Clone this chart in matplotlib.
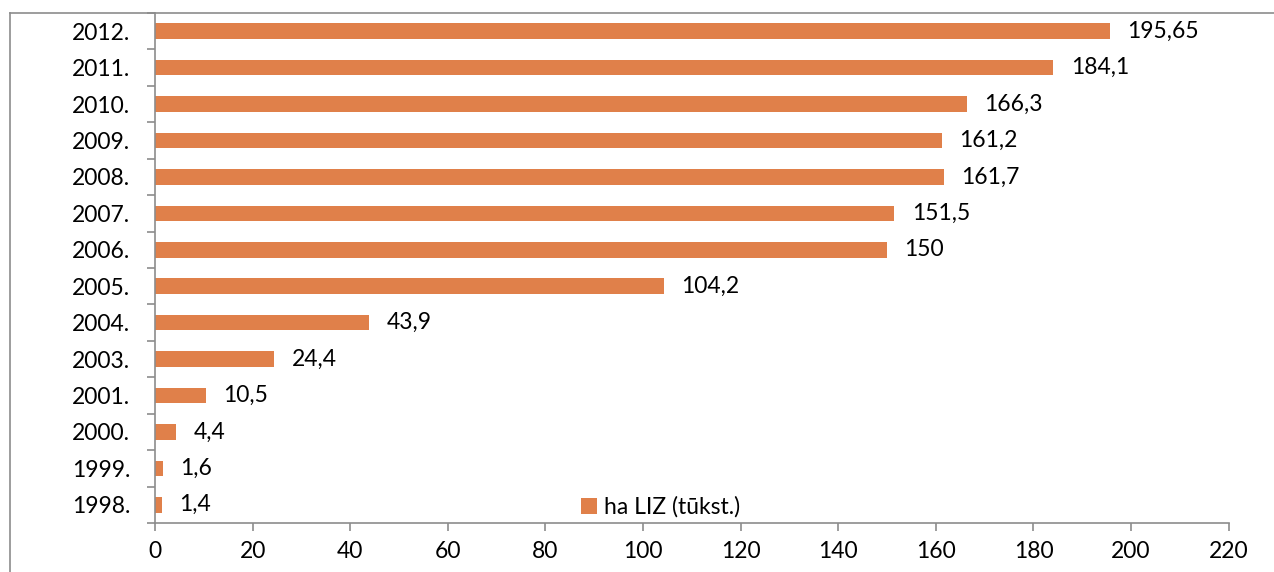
import numpy as np
import matplotlib.pyplot as plt
from matplotlib.lines import Line2D

# data
years = ['1998.', '1999.', '2000.', '2001.', '2003.', '2004.', '2005.',
         '2006.', '2007.', '2008.', '2009.', '2010.', '2011.', '2012.']
values = [1.4, 1.6, 4.4, 10.5, 24.4, 43.9, 104.2,
          150, 151.5, 161.7, 161.2, 166.3, 184.1, 195.65]
value_labels = ['1,4', '1,6', '4,4', '10,5', '24,4', '43,9', '104,2',
                '150', '151,5', '161,7', '161,2', '166,3', '184,1', '195,65']
series_name = 'ha LIZ (tūkst.)'
x_ticks = [0, 20, 40, 60, 80, 100, 120, 140, 160, 180, 200, 220]

plt.rcParams['font.family'] = ['Lato', 'DejaVu Sans']
bar_color = '#E0804A'
grid_gray = '#8C8C8C'
fs = 16.5

W, H = 1274, 572
fig = plt.figure(figsize=(W / 100, H / 100), dpi=100)
ax = fig.add_axes([155 / W, 1 - 523 / H, (1228.7 - 155) / W, (523 - 13) / H])

y = np.arange(len(years))
bars = ax.barh(y, values, height=0.43, color=bar_color, label=series_name)

for yi, v, lab in zip(y, values, value_labels):
    ax.annotate(lab, (v, yi), xytext=(12.5, 0), textcoords='offset points',
                va='center', ha='left', fontsize=fs)

ax.set_xlim(0, 220)
ax.set_ylim(-0.5, len(years) - 0.5)
ax.set_xticks(x_ticks)
ax.set_xticklabels([str(t) for t in x_ticks], fontsize=fs)

# category labels centred, tick marks on the boundaries
ax.set_yticks(y)
ax.set_yticklabels(years, fontsize=fs)
ax.tick_params(axis='y', which='major', length=0, pad=18)
ax.set_yticks(np.arange(-0.5, len(years), 1), minor=True)
ax.tick_params(axis='y', which='minor', length=6, width=1.2, color=grid_gray)
ax.tick_params(axis='x', length=6, width=1.2, color=grid_gray, pad=7)

for side in ['top', 'right']:
    ax.spines[side].set_visible(False)
for side in ['left', 'bottom']:
    ax.spines[side].set_color(grid_gray)
    ax.spines[side].set_linewidth(1.2)

ax.legend(loc='center left', bbox_to_anchor=((572 - 155) / (1228.7 - 155), (523 - 507) / (523 - 13)),
          frameon=False, fontsize=fs, handlelength=0.7, handleheight=0.7,
          handletextpad=0.3, borderaxespad=0)

# outer chart frame (partly cropped)
fig.add_artist(Line2D([10 / W, 10 / W], [0, 1 - 13 / H], color=grid_gray, lw=1.2))
fig.add_artist(Line2D([10 / W, 1], [1 - 13 / H, 1 - 13 / H], color=grid_gray, lw=1.2))

fig.savefig('out.png', dpi=100)
